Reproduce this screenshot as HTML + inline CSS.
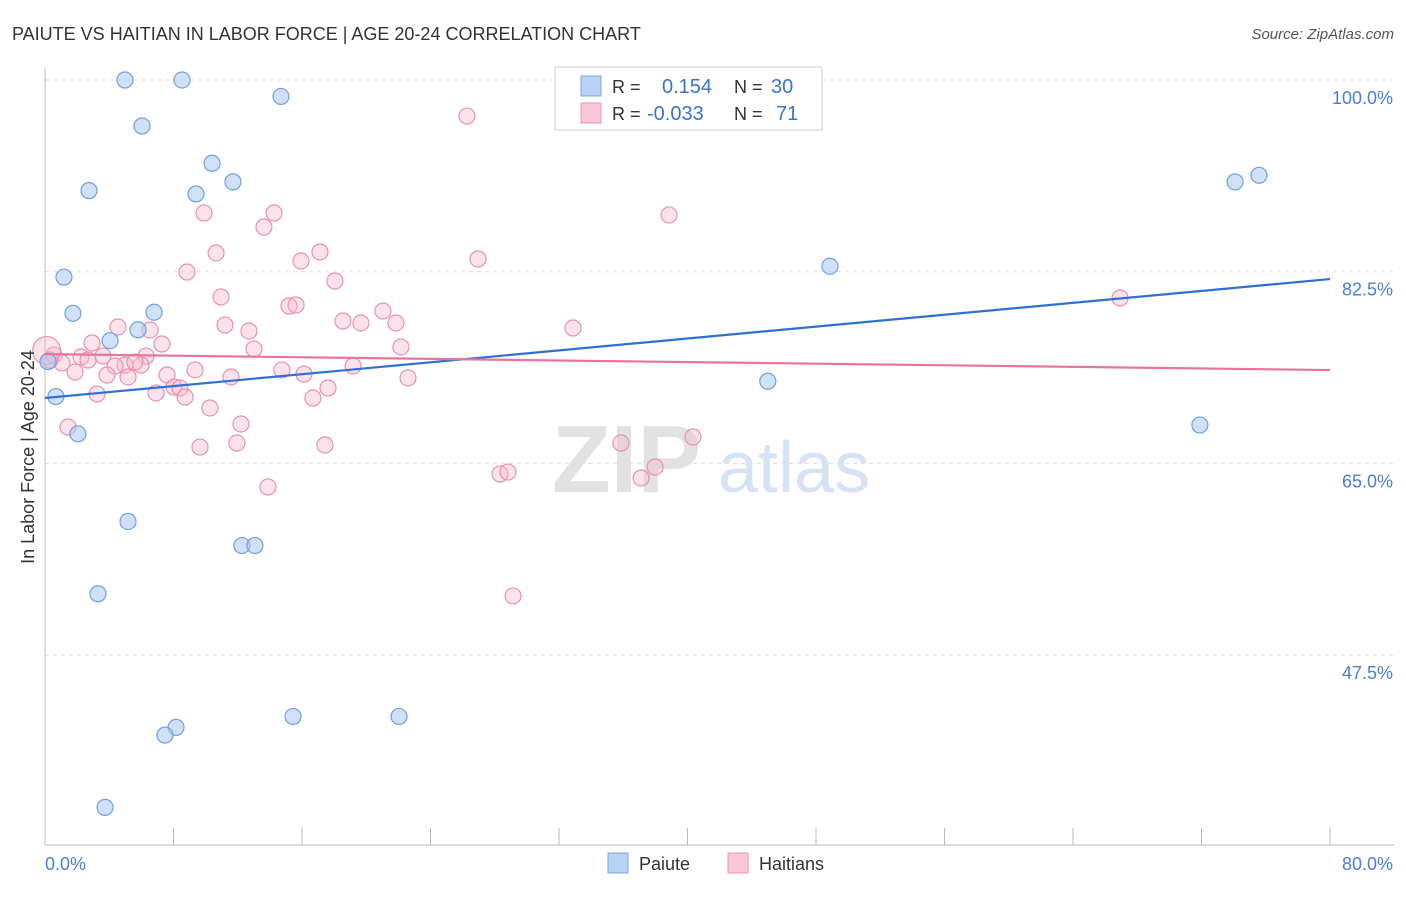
<!DOCTYPE html>
<html><head><meta charset="utf-8"><style>
body{margin:0;background:#fff;font-family:"Liberation Sans",sans-serif;}
svg text{font-family:"Liberation Sans",sans-serif;}
</style></head><body>
<svg id="chart" width="1406" height="892" xmlns="http://www.w3.org/2000/svg">
<text x="12" y="40" font-size="18" fill="#333">PAIUTE VS HAITIAN IN LABOR FORCE | AGE 20-24 CORRELATION CHART</text>
<text x="1394" y="39" font-size="15" fill="#555" font-style="italic" text-anchor="end">Source: ZipAtlas.com</text>
<g id="grid"></g>
<text x="552" y="492" font-size="96" fill="#e2e2e2" font-family="Liberation Serif" font-weight="bold">ZIP</text>
<text x="718" y="492" font-size="72" fill="#d6e3f5">atlas</text>
<g id="axes"></g>
<g id="pts"></g>
<g id="trends"></g>
<text transform="translate(34,457) rotate(-90)" font-size="18" fill="#333" text-anchor="middle">In Labor Force | Age 20-24</text>
<text x="45" y="870" font-size="18" fill="#4a7fd4">0.0%</text>
<text x="1393" y="870" font-size="18" fill="#4a7fd4" text-anchor="end">80.0%</text>
<g>
<rect x="555" y="67" width="267" height="63" fill="#fff" stroke="#ccc"/>
<rect x="581" y="76" width="20" height="20" fill="#b8d2f4" stroke="#7aa6e0"/>
<rect x="581" y="103" width="20" height="20" fill="#f9c6d6" stroke="#e995b3"/>
<text x="612" y="93" font-size="18" fill="#333">R = </text><text x="662" y="93" font-size="20" fill="#3a74d0">0.154</text>
<text x="734" y="93" font-size="18" fill="#333">N = </text><text x="771" y="93" font-size="20" fill="#3a74d0">30</text>
<text x="612" y="120" font-size="18" fill="#333">R = </text><text x="647" y="120" font-size="20" fill="#3a74d0">-0.033</text>
<text x="734" y="120" font-size="18" fill="#333">N = </text><text x="776" y="120" font-size="20" fill="#3a74d0">71</text>
</g>
<g>
<rect x="608" y="853" width="20" height="20" fill="#b8d2f4" stroke="#7aa6e0"/>
<text x="639" y="870" font-size="18" fill="#333">Paiute</text>
<rect x="728" y="853" width="20" height="20" fill="#f9c6d6" stroke="#e995b3"/>
<text x="759" y="870" font-size="18" fill="#333">Haitians</text>
</g>
</svg>
<script>
const yTicks=[100,82.5,65,47.5];
const yTickLabels=["100.0%","82.5%","65.0%","47.5%"];
const paiuteX=[4.98,8.53,14.69,6.04,10.4,2.74,9.4,11.7,1.18,1.74,6.79,5.79,4.05,0.19,0.68,2.05,5.17,12.26,13.07,3.3,15.44,22.04,8.16,7.47,3.74,48.87,45.0,74.09,75.58,71.9];
const paiuteY=[100,100,98.5,95.8,92.4,89.9,89.6,90.7,82.0,78.7,78.8,77.2,76.2,74.3,71.1,67.7,59.7,57.5,57.5,53.1,41.9,41.9,40.9,40.2,33.6,83.0,72.5,90.7,91.3,68.5];
const haitiPx=[[467,116],[669,215],[204,213],[274,213],[264,227],[216,253],[320,252],[301,261],[478,259],[187,272],[335,281],[221,297],[289,306],[296,305],[383,311],[343,321],[361,323],[396,323],[225,325],[249,331],[573,328],[118,327],[150,330],[92,343],[162,344],[254,349],[401,347],[54,355],[81,357],[103,356],[146,356],[125,365],[141,365],[62,363],[115,366],[353,366],[195,370],[282,370],[75,372],[107,375],[167,375],[128,377],[231,377],[304,374],[408,378],[174,387],[180,388],[156,393],[97,394],[185,397],[328,388],[313,398],[210,408],[241,424],[68,427],[237,443],[200,447],[325,445],[621,443],[693,437],[268,487],[500,474],[508,472],[655,467],[641,478],[513,596],[1120,298],[50,360],[88,360],[135,362]];
const haitiX=haitiPx.map(p=>+((p[0]-45)/1285*80).toFixed(2));
const haitiY=haitiPx.map(p=>+(100-(p[1]-80)/191.7*17.5).toFixed(2));
const paiuteTrend=[70.97,81.83];
const haitiTrend=[74.98,73.52];
const X0=45,X1=1330,Y100=80,PX=191.7/17.5;
const sx=v=>X0+v/80*(X1-X0);
const sy=v=>Y100+(100-v)*PX;
const NS="http://www.w3.org/2000/svg";
function mk(t,a,p){const e=document.createElementNS(NS,t);for(const k in a)e.setAttribute(k,a[k]);p.appendChild(e);return e;}
const grid=document.getElementById('grid'),axes=document.getElementById('axes'),pts=document.getElementById('pts'),tr=document.getElementById('trends');
yTicks.forEach((t,i)=>{
 const l=mk('line',{x1:X0,x2:1394,y1:sy(t),y2:sy(t),stroke:'#ddd','stroke-dasharray':'4,4'},grid);
 
 
 const tx=mk('text',{x:1393,y:sy(t)+24,'font-size':18,fill:'#4a7fd4','text-anchor':'end'},grid);
 tx.textContent=yTickLabels[i];
 
 
});
let a=mk('line',{x1:X0,x2:X0,y1:68,y2:845,stroke:'#bbb'},axes);


a=mk('line',{x1:X0,x2:1394,y1:845,y2:845,stroke:'#bbb'},axes);


for(let i=0;i<=10;i++){const t=mk('line',{x1:sx(i*8),x2:sx(i*8),y1:828,y2:845,stroke:'#bbb'},axes);
 
 }
haitiX.forEach((x,i)=>{const c=mk('circle',{cx:sx(x),cy:sy(haitiY[i]),r:8,fill:'rgba(247,184,204,0.4)',stroke:'#e892b0','stroke-width':1.2},pts);
 
 });
let big=mk('circle',{cx:sx(0.1),cy:sy(75.3),r:14,fill:'rgba(247,184,204,0.4)',stroke:'#e892b0','stroke-width':1.2},pts);


paiuteX.forEach((x,i)=>{const c=mk('circle',{cx:sx(x),cy:sy(paiuteY[i]),r:8,fill:'rgba(169,200,240,0.55)',stroke:'#6fa0e0','stroke-width':1.2},pts);
 
 });
let l1=mk('line',{x1:sx(0),x2:sx(80),y1:sy(paiuteTrend[0]),y2:sy(paiuteTrend[1]),stroke:'#2f6fd6','stroke-width':2.2},tr);


let l2=mk('line',{x1:sx(0),x2:sx(80),y1:sy(haitiTrend[0]),y2:sy(haitiTrend[1]),stroke:'#e8739c','stroke-width':2.2},tr);


</script>
</body></html>
